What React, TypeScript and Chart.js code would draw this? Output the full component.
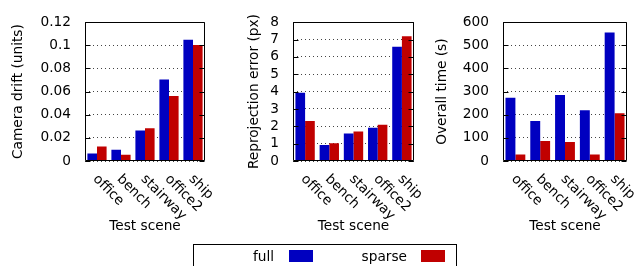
import React, { useEffect, useRef } from 'react';
import { Chart, registerables } from 'chart.js';

Chart.register(...registerables);

const categories = ['office', 'bench', 'stairway', 'office2', 'ship'];
const seriesNames = ['full', 'sparse'];
const seriesColors = ['#0000c0', '#c00000'];

const driftFull = [0.0064, 0.0097, 0.0263, 0.0704, 0.1048];
const driftSparse = [0.0125, 0.0055, 0.0283, 0.0563, 0.1003];
const driftTicks = [0, 0.02, 0.04, 0.06, 0.08, 0.1, 0.12];

const reprojFull = [3.94, 0.92, 1.59, 1.92, 6.58];
const reprojSparse = [2.31, 1.03, 1.7, 2.09, 7.19];
const reprojTicks = [0, 1, 2, 3, 4, 5, 6, 7, 8];

const timeFull = [273, 173, 285, 219, 556];
const timeSparse = [28, 86, 82, 28, 206];
const timeTicks = [0, 100, 200, 300, 400, 500, 600];

const xTitle = 'Test scene';
const FONT = '"DejaVu Sans", sans-serif';
const FS = 13.7;

type Panel = {
  left: number;
  width: number;
  yAxisWidth: number;
  padRight: number;
  yTitle: string;
  yTitleOffset: number;
  full: number[];
  sparse: number[];
  ticks: number[];
};

const panels: Panel[] = [
  { left: 0, width: 212, yAxisWidth: 85, padRight: 7, yTitle: 'Camera drift (units)', yTitleOffset: 10.5, full: driftFull, sparse: driftSparse, ticks: driftTicks },
  { left: 212, width: 210, yAxisWidth: 81, padRight: 8, yTitle: 'Reprojection error (px)', yTitleOffset: 34.5, full: reprojFull, sparse: reprojSparse, ticks: reprojTicks },
  { left: 422, width: 213, yAxisWidth: 81, padRight: 8, yTitle: 'Overall time (s)', yTitleOffset: 12.3, full: timeFull, sparse: timeSparse, ticks: timeTicks },
];

const framePlugin = {
  id: 'frame',
  afterDraw(chart: any) {
    const { ctx, chartArea: a, scales } = chart;
    const ys = scales.y;
    const xs = scales.x;
    ctx.save();
    ctx.strokeStyle = '#000';
    ctx.lineWidth = 1;
    const L = Math.round(a.left) + 0.5;
    const R = Math.round(a.right) - 0.5;
    const T = Math.round(a.top) + 0.5;
    const B = Math.round(a.bottom) - 0.5;
    ctx.beginPath();
    ys.ticks.forEach((t: any) => {
      const y = Math.round(ys.getPixelForValue(t.value)) + 0.5;
      ctx.moveTo(L, y);
      ctx.lineTo(L + 5, y);
      ctx.moveTo(R, y);
      ctx.lineTo(R - 5, y);
    });
    ctx.stroke();
    ctx.beginPath();
    ctx.rect(L, T, R - L, B - T);
    ctx.stroke();
    ctx.fillStyle = '#000';
    ctx.font = FS + 'px ' + FONT;
    ctx.textAlign = 'left';
    ctx.textBaseline = 'middle';
    xs.ticks.forEach((t: any, i: number) => {
      const x = xs.getPixelForTick(i);
      ctx.save();
      ctx.translate(x - 2, a.bottom + 16);
      ctx.rotate(Math.PI / 4);
      ctx.fillText(String(xs.getLabelForValue(t.value)), 0, 0);
      ctx.restore();
    });
    ctx.restore();
  },
};

function PanelChart({ p }: { p: Panel }) {
  const ref = useRef<HTMLCanvasElement | null>(null);
  useEffect(() => {
    if (!ref.current) return;
    const tickVals = p.ticks;
    const chart = new Chart(ref.current, {
      type: 'bar',
      data: {
        labels: categories,
        datasets: [
          { label: seriesNames[0], data: p.full, backgroundColor: seriesColors[0], borderWidth: 0 },
          { label: seriesNames[1], data: p.sparse, backgroundColor: seriesColors[1], borderWidth: 0 },
        ],
      },
      options: {
        responsive: false,
        animation: false,
        devicePixelRatio: 1,
        layout: { padding: { left: 0, right: p.padRight, top: 17, bottom: 0 } },
        plugins: { legend: { display: false }, tooltip: { enabled: false } },
        datasets: { bar: { categoryPercentage: 0.8, barPercentage: 1.0 } },
        scales: {
          x: {
            grid: { display: false, drawTicks: false },
            border: { display: false },
            ticks: { display: false },
            title: {
              display: true,
              text: xTitle,
              color: '#000',
              font: { family: FONT, size: FS },
              padding: { top: 0, bottom: 31.5 },
            },
            afterFit: (s: any) => { s.height = 105; },
          },
          y: {
            min: tickVals[0],
            max: tickVals[tickVals.length - 1],
            afterBuildTicks: (s: any) => { s.ticks = tickVals.map((v) => ({ value: v })); },
            grid: { color: '#444', lineWidth: 1, drawTicks: false },
            border: { display: false, dash: [1, 3] },
            ticks: {
              color: '#000',
              font: { family: FONT, size: FS },
              padding: 14,
              autoSkip: false,
              callback: (v: any) => String(v),
            },
            title: {
              display: true,
              text: p.yTitle,
              color: '#000',
              font: { family: FONT, size: FS },
              padding: { top: p.yTitleOffset, bottom: 0 },
            },
            afterFit: (s: any) => { s.width = p.yAxisWidth; },
          },
        },
      } as any,
      plugins: [framePlugin],
    });
    return () => chart.destroy();
  }, [p]);
  return (
    <canvas
      ref={ref}
      width={p.width}
      height={266}
      style={{ position: 'absolute', left: p.left, top: 0, width: p.width, height: 266 }}
    />
  );
}

export default function App() {
  return (
    <div style={{ position: 'absolute', left: 0, top: 0, width: 635, height: 266, overflow: 'hidden', background: '#fff', fontFamily: FONT }}>
      {panels.map((p, i) => (
        <PanelChart key={i} p={p} />
      ))}
      <div style={{ position: 'absolute', left: 193, top: 244, width: 264, height: 40, border: '1px solid #000', boxSizing: 'border-box', background: 'transparent' }}>
        <div style={{ position: 'absolute', left: 0, top: 4, width: 80, textAlign: 'right', fontSize: FS, lineHeight: '15px', color: '#000' }}>{seriesNames[0]}</div>
        <div style={{ position: 'absolute', left: 95, top: 5, width: 24, height: 12, background: seriesColors[0] }} />
        <div style={{ position: 'absolute', left: 0, top: 4, width: 213, textAlign: 'right', fontSize: FS, lineHeight: '15px', color: '#000' }}>{seriesNames[1]}</div>
        <div style={{ position: 'absolute', left: 227, top: 5, width: 24, height: 12, background: seriesColors[1] }} />
      </div>
    </div>
  );
}
